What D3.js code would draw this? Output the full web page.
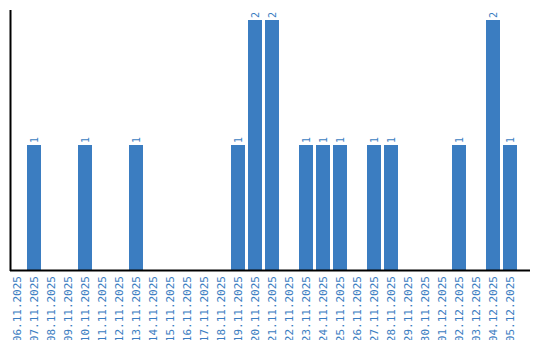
<!DOCTYPE html>
<html><head><meta charset="utf-8">
<script src="https://cdn.jsdelivr.net/npm/d3@7"></script>
<style>body{margin:0;background:#fff}svg{display:block}</style>
</head><body>
<svg id="c" width="540" height="340"></svg>
<script>
const categories = ["06.11.2025","07.11.2025","08.11.2025","09.11.2025","10.11.2025","11.11.2025","12.11.2025","13.11.2025","14.11.2025","15.11.2025","16.11.2025","17.11.2025","18.11.2025","19.11.2025","20.11.2025","21.11.2025","22.11.2025","23.11.2025","24.11.2025","25.11.2025","26.11.2025","27.11.2025","28.11.2025","29.11.2025","30.11.2025","01.12.2025","02.12.2025","03.12.2025","04.12.2025","05.12.2025"];
const values = [0,1,0,0,1,0,0,1,0,0,0,0,0,1,2,2,0,1,1,1,0,1,1,0,0,0,1,0,2,1];
const yDomain = [0,2];

const color = "#3b7dc1";
const svg = d3.select("#c");
const x = d3.scaleBand().domain(categories).range([10,517]).paddingInner(3/17).paddingOuter(0);
const y = d3.scaleLinear().domain(yDomain).range([270,20]);

const data = values.map((v,i)=>({v,c:categories[i]})).filter(d=>d.v>0);

svg.append("g").selectAll("rect").data(data).join("rect")
  .attr("x",d=>x(d.c)).attr("width",x.bandwidth())
  .attr("y",d=>y(d.v)).attr("height",d=>y(0)-y(d.v)).attr("fill",color);

svg.append("g").selectAll("text").data(data).join("text")
  .attr("transform",d=>`translate(${x(d.c)+x.bandwidth()/2},${y(d.v)-2}) rotate(-90)`)
  .attr("dy","0.35em").attr("text-anchor","start")
  .attr("font-family","DejaVu Sans Mono").attr("font-size",10).attr("fill",color)
  .text(d=>d.v);

const xa = svg.append("g").attr("transform","translate(0,270)")
  .call(d3.axisBottom(x).tickSize(0).tickPadding(0));
xa.select(".domain").remove();
xa.append("line").attr("x1",10).attr("x2",530).attr("y1",0.5).attr("y2",0.5).attr("stroke","#000").attr("stroke-width",2);
xa.selectAll(".tick text")
  .attr("transform","translate(0,6) rotate(-90)")
  .attr("text-anchor","end").attr("dy","0.35em").attr("y",0).attr("x",0)
  .attr("font-family","DejaVu Sans Mono").attr("font-size",11).attr("fill",color);

svg.append("line").attr("x1",10.5).attr("x2",10.5).attr("y1",10).attr("y2",271).attr("stroke","#000").attr("stroke-width",2);
</script>
</body></html>
